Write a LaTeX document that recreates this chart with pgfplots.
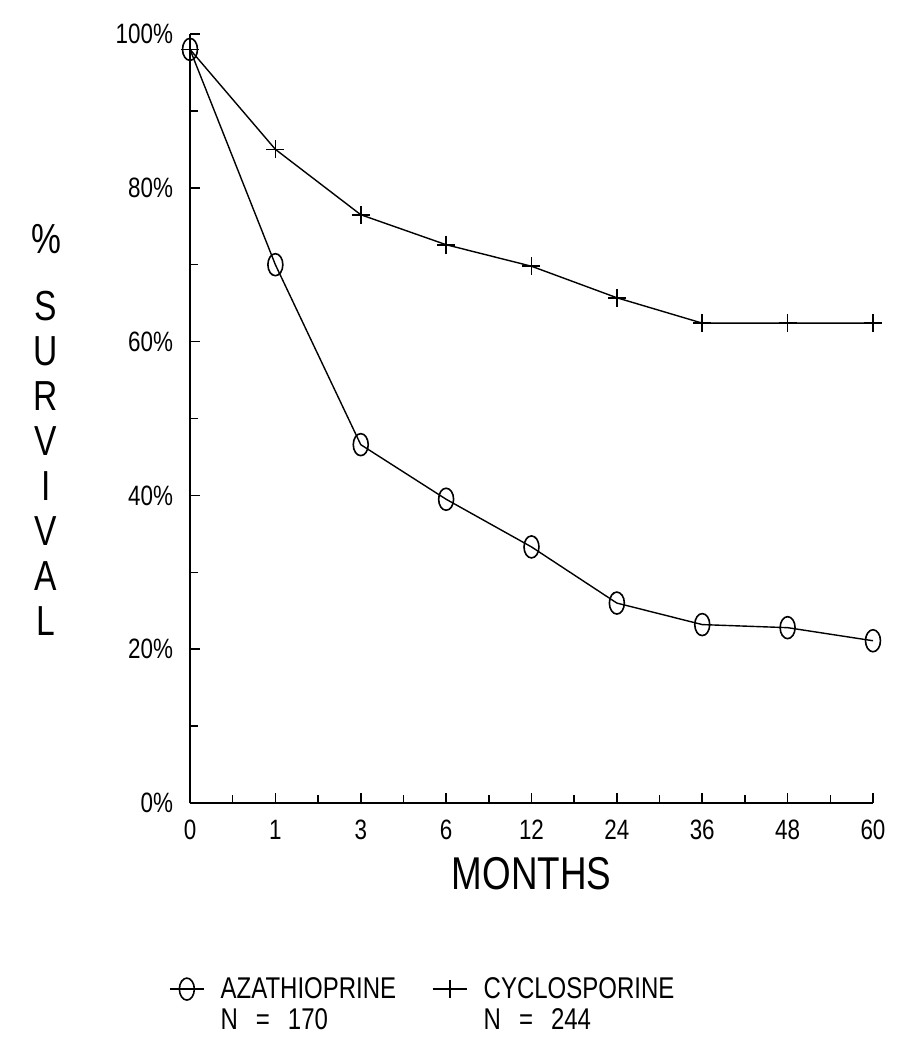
\documentclass[border=0pt]{standalone}
\usepackage{fontspec}
\setmainfont{Liberation Sans}[FakeStretch=0.8]
\usepackage{pgfplots}
\pgfplotsset{compat=1.18}
\begin{document}
\begin{tikzpicture}
\begin{axis}[
  name=ax,
  scale only axis, width=341.5pt, height=384.5pt,
  xmin=0, xmax=8, ymin=0, ymax=100,
  clip=false,
  axis x line*=bottom, axis y line*=left,
  axis line style={line width=0.9pt},
  xtick={0,...,8}, xticklabels={0,1,3,6,12,24,36,48,60},
  minor x tick num=1,
  ytick={0,20,...,100}, minor y tick num=1,
  yticklabel={\pgfmathprintnumber{\tick}\%},
  /pgf/number format/assume math mode=true,
  tick align=inside, major tick length=5pt, minor tick length=4pt,
  tick style={line width=0.8pt, black},
  tick label style={font=\fontsize{14}{14}\selectfont},
  xticklabel style={yshift=-5pt},
  yticklabel style={xshift=-5pt},
  xlabel={MONTHS},
  xlabel style={font=\fontsize{23}{23}\selectfont, yshift=-2pt},
  ylabel={\begin{tabular}{@{}c@{}}\%\\[11pt]S\\U\\R\\V\\I\\V\\A\\L\end{tabular}},
  every axis y label/.style={at={(rel axis cs:0,0.478)}, anchor=center, xshift=-72pt,
    font=\fontsize{21}{22.5}\selectfont},
  legend columns=2,
  legend cell align=left,
  legend style={draw=none, fill=none, at={(-0.04,-0.215)}, anchor=north west,
    font=\fontsize{15}{15.5}\selectfont,
    /tikz/every odd column/.append style={column sep=6pt},
    /tikz/every even column/.append style={column sep=16pt}},
]
\addplot[black, line width=0.7pt, mark=o, mark size=5.5pt,
  mark options={xscale=0.68, line width=0.8pt}]
  coordinates {(0,98)(1,70)(2,46.6)(3,39.5)(4,33.3)(5,26)(6,23.2)(7,22.8)(8,21.1)};
\addlegendentry{\begin{tabular}[t]{@{}l@{}}AZATHIOPRINE\\N\hspace{9pt}=\hspace{9pt}170\end{tabular}}
\addplot[black, line width=0.7pt, mark=+, mark size=4.5pt, mark options={line width=0.8pt}]
  coordinates {(0,98)(1,85)(2,76.5)(3,72.6)(4,69.8)(5,65.7)(6,62.4)(7,62.4)(8,62.4)};
\addlegendentry{\begin{tabular}[t]{@{}l@{}}CYCLOSPORINE\\N\hspace{9pt}=\hspace{9pt}244\end{tabular}}
\end{axis}
\path (ax.south west) ++(-95pt,-123.5pt) rectangle ++(457pt,525pt);
\end{tikzpicture}
\end{document}
